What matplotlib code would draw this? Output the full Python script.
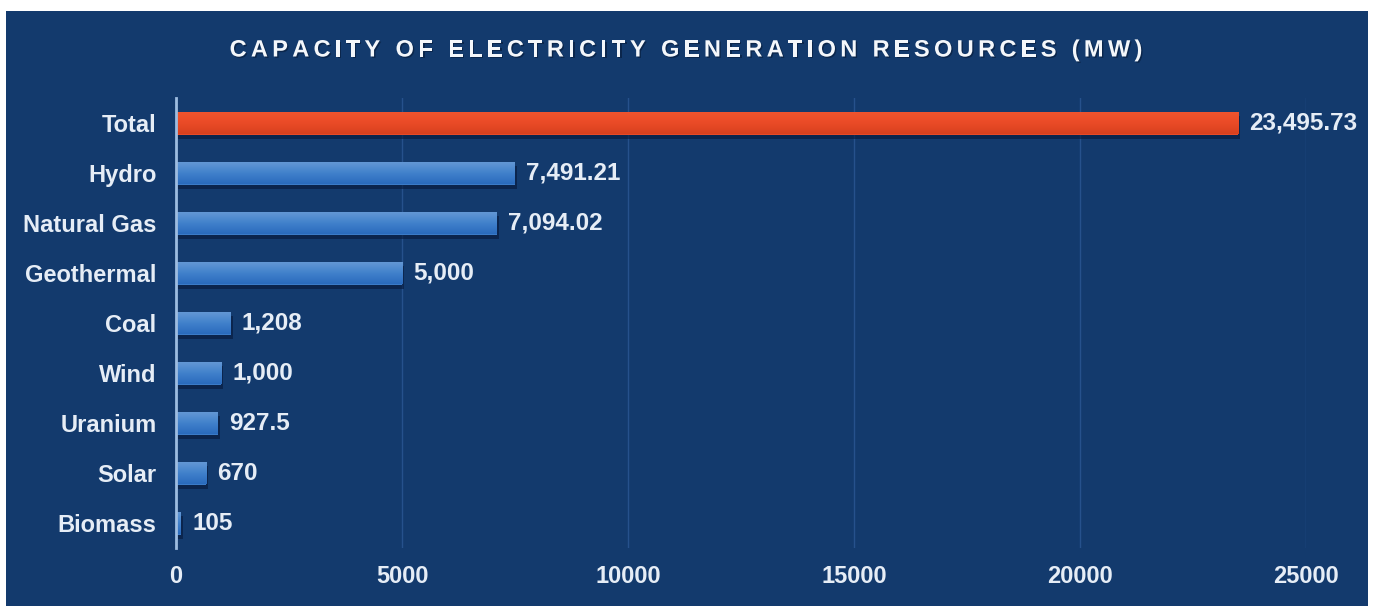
import numpy as np
import matplotlib.pyplot as plt
from matplotlib import patheffects
from matplotlib.colors import LinearSegmentedColormap
from matplotlib.font_manager import FontProperties
from matplotlib.patches import Rectangle

categories = ["Total", "Hydro", "Natural Gas", "Geothermal", "Coal",
              "Wind", "Uranium", "Solar", "Biomass"]
values = [23495.73, 7491.21, 7094.02, 5000, 1208, 1000, 927.5, 670, 105]
value_labels = ["23,495.73", "7,491.21", "7,094.02", "5,000", "1,208",
                "1,000", "927.5", "670", "105"]
x_ticks = [0, 5000, 10000, 15000, 20000, 25000]
title = "CAPACITY OF ELECTRICITY GENERATION RESOURCES (MW)"

bg = "#133a6d"
txt = "#e6edf6"
label_font = ["Liberation Sans", "DejaVu Sans"]

fig = plt.figure(figsize=(13.73, 6.06), dpi=100, facecolor="white")
# dark panel (white margin at top and sides like the original)
fig.patches.append(Rectangle((6 / 1373, 0), 1362 / 1373, 595 / 606,
                             transform=fig.transFigure, facecolor=bg,
                             edgecolor="none", zorder=-5))

ax = fig.add_axes([176 / 1373, 1 - 548 / 606, 1130 / 1373, 450 / 606])
ax.set_facecolor("none")

y = np.arange(len(categories))
colors = ["#e84a27"] + ["#3b7bc8"] * (len(categories) - 1)
bars = ax.barh(y, values, height=0.46, color=colors, zorder=3,
               path_effects=[patheffects.SimplePatchShadow(offset=(1.5, -3.5),
                                                           shadow_rgbFace="#06183a",
                                                           alpha=0.6),
                             patheffects.Normal()])

blue_grad = LinearSegmentedColormap.from_list("b", ["#2a6bbd", "#4282cc", "#6699d6"])
red_grad = LinearSegmentedColormap.from_list("r", ["#d8401f", "#ea4b27", "#f0552f"])
grad = np.linspace(0, 1, 64).reshape(-1, 1)
for i, b in enumerate(bars):
    x0, y0 = b.get_x(), b.get_y()
    im = ax.imshow(grad, extent=[x0, x0 + b.get_width(), y0, y0 + b.get_height()],
                   aspect="auto", cmap=red_grad if i == 0 else blue_grad,
                   origin="upper", zorder=4)
    im.set_clip_path(b)

for b, lab in zip(bars, value_labels):
    ax.text(b.get_width() + 250, b.get_y() + b.get_height() / 2, lab,
            va="center", ha="left", color=txt, fontsize=17.5,
            fontweight="bold", family=label_font, zorder=5)

ax.set_xlim(0, 25000)
ax.set_ylim(len(categories) - 0.5, -0.5)
ax.set_yticks(y)
ax.set_yticklabels(categories)
ax.set_xticks(x_ticks)
ax.set_xticklabels([str(t) for t in x_ticks])
for lab in ax.get_yticklabels() + ax.get_xticklabels():
    lab.set_family(label_font)
    lab.set_fontweight("bold")
    lab.set_fontsize(17)
    lab.set_color(txt)
ax.tick_params(axis="y", length=0, pad=14)
ax.tick_params(axis="x", length=0, pad=12)

ax.grid(axis="x", color="#26518c", linewidth=1, zorder=1)
ax.set_axisbelow(True)
for s in ["top", "right", "bottom"]:
    ax.spines[s].set_visible(False)
ax.spines["left"].set_color("#9dbce0")
ax.spines["left"].set_linewidth(2)
ax.spines["left"].set_zorder(6)

# title with letter spacing, placed char by char
renderer = fig.canvas.get_renderer()
fp = FontProperties(family=["Liberation Sans", "DejaVu Sans"], weight="bold", size=17)
spacing = 4.3
widths = [renderer.get_text_width_height_descent(c, fp, ismath=False)[0] for c in title]
total_w = sum(widths) + spacing * (len(title) - 1)
x = 686 - total_w / 2
for c, w in zip(title, widths):
    fig.text(x / 1373, 1 - 50 / 606, c, fontproperties=fp, color="#f4f7fb",
             va="center", ha="left",
             path_effects=[patheffects.withSimplePatchShadow(offset=(1, -1),
                                                             shadow_rgbFace="#061a36",
                                                             alpha=0.6)])
    x += w + spacing

fig.savefig("out.png", dpi=100, facecolor="white")
